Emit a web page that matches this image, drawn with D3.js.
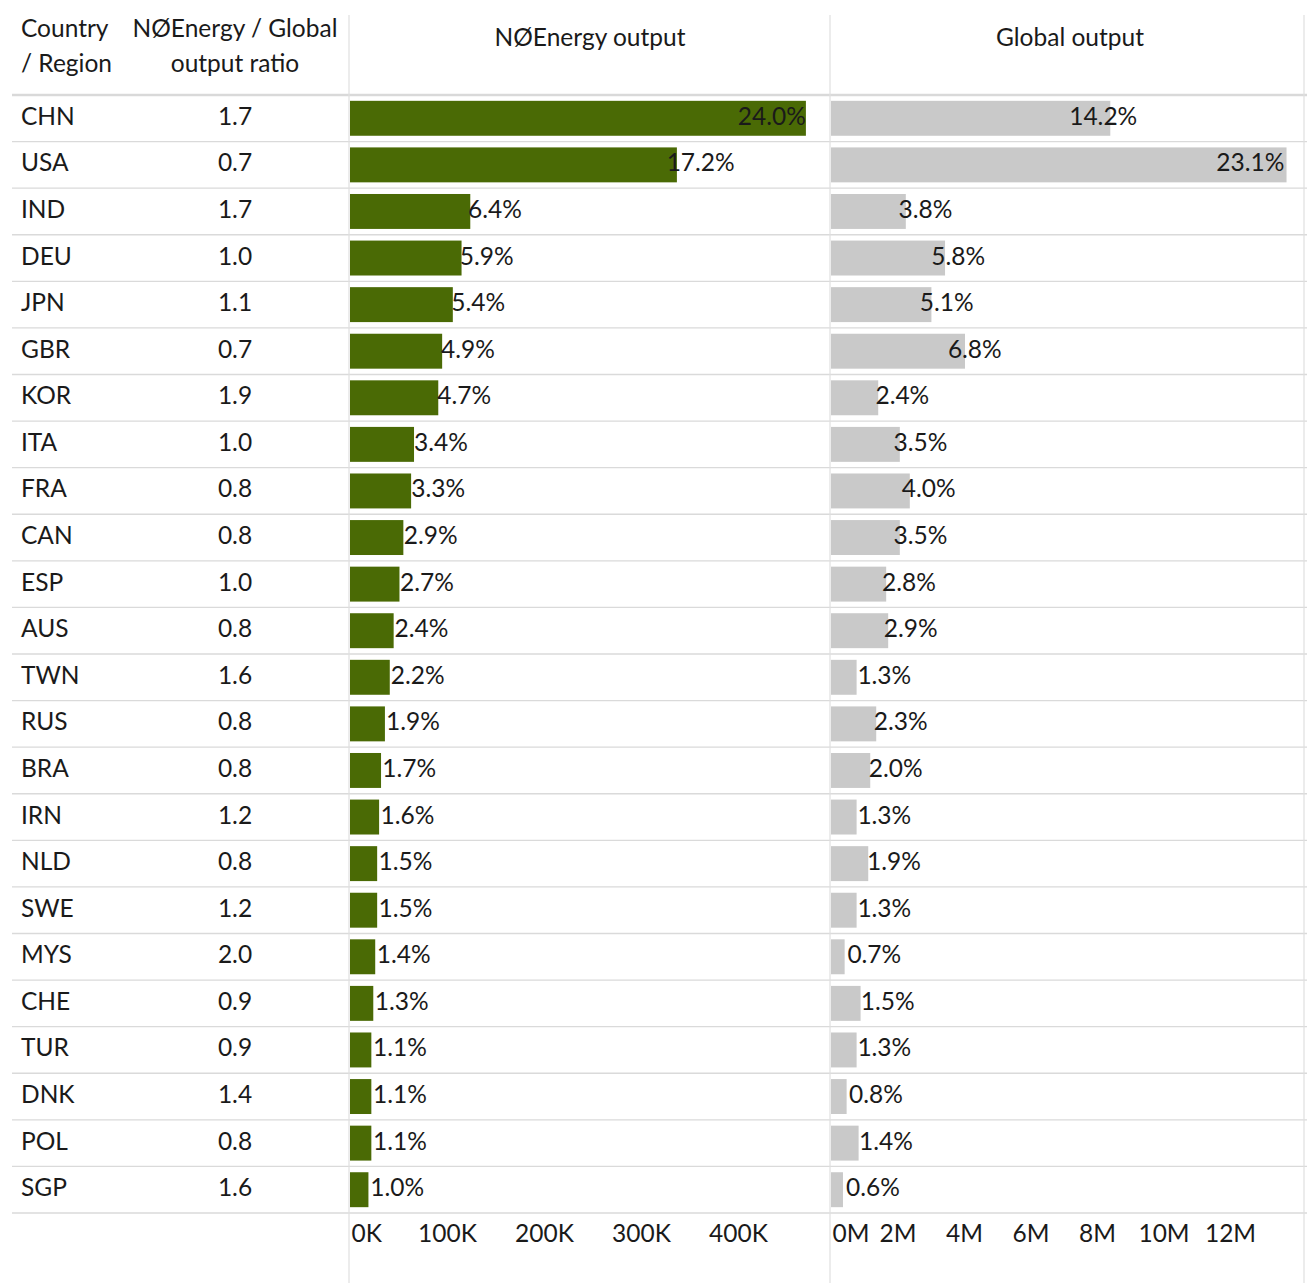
<!DOCTYPE html>
<html><head><meta charset="utf-8">
<script src="https://cdn.jsdelivr.net/npm/d3@7"></script>
<style>
body{margin:0;background:#fff;}
text{font-family:Lato,"Open Sans",sans-serif;fill:#1a1a1a;}
</style></head>
<body><svg id="c" width="1307" height="1283"></svg>
<script>
const countries=["CHN","USA","IND","DEU","JPN","GBR","KOR","ITA","FRA","CAN","ESP","AUS","TWN","RUS","BRA","IRN","NLD","SWE","MYS","CHE","TUR","DNK","POL","SGP"];
const ratios=["1.7","0.7","1.7","1.0","1.1","0.7","1.9","1.0","0.8","0.8","1.0","0.8","1.6","0.8","0.8","1.2","0.8","1.2","2.0","0.9","0.9","1.4","0.8","1.6"];
// NØEnergy output (thousands)
const neValues=[470,337,124,115,106,95,91,66,63,55,51,45,41,36,32,30,28,28,26,24,22,22,22,19];
const neShares=["24.0%","17.2%","6.4%","5.9%","5.4%","4.9%","4.7%","3.4%","3.3%","2.9%","2.7%","2.4%","2.2%","1.9%","1.7%","1.6%","1.5%","1.5%","1.4%","1.3%","1.1%","1.1%","1.1%","1.0%"];
// Global output (millions)
const glValues=[8.4,13.7,2.25,3.43,3.02,4.03,1.42,2.07,2.37,2.07,1.66,1.72,0.77,1.36,1.18,0.77,1.12,0.77,0.41,0.89,0.77,0.47,0.83,0.36];
const glShares=["14.2%","23.1%","3.8%","5.8%","5.1%","6.8%","2.4%","3.5%","4.0%","3.5%","2.8%","2.9%","1.3%","2.3%","2.0%","1.3%","1.9%","1.3%","0.7%","1.5%","1.3%","0.8%","1.4%","0.6%"];
const neTicks=[0,100,200,300,400];
const glTicks=[0,2,4,6,8,10,12];

const svg=d3.select("#c");
const FS=24.5;
const yTop=95,yBottom=1213;
const y=d3.scaleBand().domain(countries).range([yTop,yBottom]).paddingInner(0.25).paddingOuter(0.125);
const rowStep=(yBottom-yTop)/countries.length;
const xNE=d3.scaleLinear().domain([0,400]).range([350,738]);
const xGL=d3.scaleLinear().domain([0,12]).range([831,1230]);
const paneNE=[350,829], paneGL=[831,1304];

// grid lines
for(let i=0;i<=countries.length;i++){
  const yy=yTop+i*rowStep;
  svg.append("line").attr("x1",12).attr("x2",1307).attr("y1",yy).attr("y2",yy)
    .attr("stroke",i===0?"#d9d9d9":"#dadada").attr("stroke-width",i===0?2.5:1.3);
}
[349,830,1304].forEach(x=>{
  svg.append("line").attr("x1",x).attr("x2",x).attr("y1",15).attr("y2",1283).attr("stroke","#e0e0e0").attr("stroke-width",1.2);
});

// headers
const hdr=(x,yy,t,anchor)=>svg.append("text").attr("x",x).attr("y",yy).attr("font-size",FS).attr("text-anchor",anchor||"start").text(t);
hdr(21,37,"Country");
hdr(21,72,"/ Region");
hdr(235,37,"NØEnergy / Global","middle");
hdr(235,72,"output ratio","middle");
hdr(590,46,"NØEnergy output","middle");
hdr(1070,46,"Global output","middle");

const yc=d=>y(d)+y.bandwidth()/2;
// row labels
svg.append("g").selectAll("text").data(countries).join("text")
  .attr("x",21).attr("y",d=>yc(d)+6.5).attr("font-size",FS).text(d=>d);
svg.append("g").selectAll("text").data(countries).join("text")
  .attr("x",235).attr("y",(d,i)=>yc(d)+6.5).attr("text-anchor","middle").attr("font-size",FS).text((d,i)=>ratios[i]);

function pane(x,vals,shares,color,pr,k,off){
  const g=svg.append("g");
  g.selectAll("rect").data(countries).join("rect")
    .attr("x",x(0)).attr("y",d=>y(d)).attr("height",y.bandwidth())
    .attr("width",(d,i)=>x(vals[i])-x(0)).attr("fill",color);
  const t=g.selectAll("text").data(countries).join("text")
    .attr("y",d=>yc(d)+6.5).attr("font-size",FS).text((d,i)=>shares[i]);
  t.each(function(d,i){
    const el=d3.select(this);
    const w=this.getComputedTextLength();
    const end=x(vals[i]);
    const lx=x(vals[i]*k)+off;
    if(lx+w>pr[1]) el.attr("x",end).attr("text-anchor","end");
    else el.attr("x",lx).attr("text-anchor","start");
  });
}
pane(xNE,neValues,neShares,"#4a6a05",paneNE,0.961,2.5);
pane(xGL,glValues,glShares,"#c9c9c9",paneGL,0.835,5);

function axis(x,ticks,fmt){
  const g=svg.append("g").attr("transform",`translate(0,${yBottom})`)
    .call(d3.axisBottom(x).tickValues(ticks).tickFormat(fmt).tickSize(0).tickPadding(0));
  g.select(".domain").remove();
  g.selectAll("text").attr("font-size",FS).attr("font-family","Lato,'Open Sans',sans-serif").attr("fill","#1a1a1a").attr("dy",0).attr("y",29);
  g.selectAll("text").filter((d,i)=>i===0).attr("text-anchor","start").attr("dx",1);
}
axis(xNE,neTicks,d=>d+"K");
axis(xGL,glTicks,d=>d+"M");
</script></body></html>
